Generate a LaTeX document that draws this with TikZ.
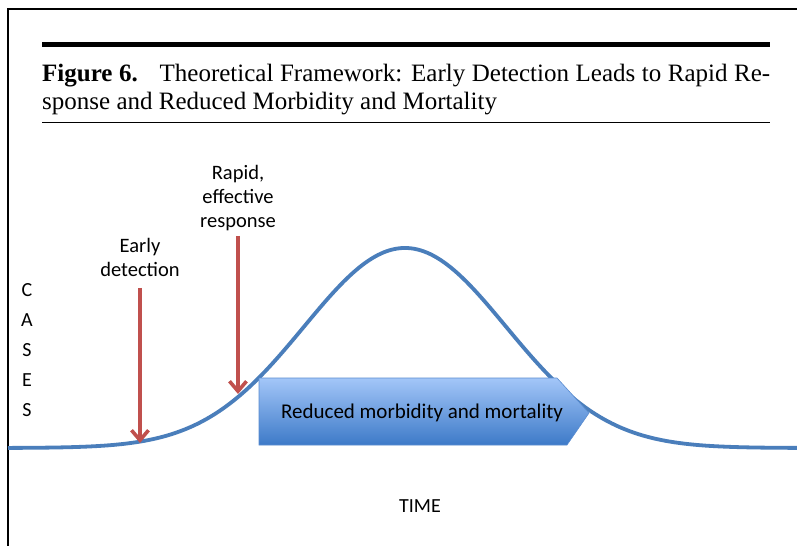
\documentclass[tikz,border=0pt]{standalone}
\usepackage{fontspec}
\setmainfont{Liberation Serif}
\newfontfamily\calib{Carlito}
\usetikzlibrary{arrows.meta}
\definecolor{curveblue}{HTML}{4A7EBB}
\definecolor{arrowred}{HTML}{C0504D}
\definecolor{boxtop}{HTML}{A3C6F8}
\definecolor{boxbot}{HTML}{3D7AC8}
\definecolor{boxedge}{HTML}{5A8CD0}
\tikzset{
  redarrow/.style={draw=arrowred, line width=3.6bp, -{Straight Barb[length=10bp,width=17bp,line width=3.6bp]}},
  lbl/.style={font=\calib\fontsize{20.5bp}{24bp}\selectfont, align=center, inner sep=0pt},
  ttl/.style={font=\fontsize{25bp}{28bp}\selectfont, anchor=base west, inner sep=0pt},
}
\begin{document}
\begin{tikzpicture}[x=1bp,y=-1bp]
\useasboundingbox (0,0) rectangle (797,546);
\fill[white] (0,0) rectangle (797,546);
% frame
\draw[line width=2bp] (8,546) -- (8,9) -- (797,9);
% title rules
\draw[line width=5bp] (42,45) -- (770,45);
\draw[line width=0.8bp] (42,122) -- (770,122);
\node[ttl] (t1) at (42,82) {\makebox[728bp][s]{\textbf{Figure 6.}\hspace{0.5em} Theoretical Framework: Early Detection Leads to Rapid Re-}};
\node[ttl] (t2) at (42,110) {sponse and Reduced Morbidity and Mortality};
% curve
\draw[curveblue, line width=3.8bp] plot[domain=8:797, samples=240, smooth] (\x, {448-200*exp(-0.5*((\x-405)/101)^2)});
% box
\shade[top color=boxtop, bottom color=boxbot, draw=boxedge, line width=0.6bp]
  (259,378) -- (557,378) -- (589,413) -- (567,445) -- (259,445) -- cycle;
\node[lbl, font=\calib\fontsize{21bp}{24bp}\selectfont] (box) at (422,413) {Reduced morbidity and mortality};
% labels
\node[lbl] (ed) at (140,257) {Early\\detection};
\node[lbl] (rr) at (238,198) {Rapid,\\effective\\response};
\coordinate (edtip) at (140,443);
\coordinate (rrtip) at (238,394);
\draw[redarrow] (140,288) -- (edtip);
\draw[redarrow] (238,236) -- (rrtip);
% axis labels
\node[lbl, font=\calib\fontsize{20bp}{30bp}\selectfont] (cases) at (27,350) {C\\A\\S\\E\\S};
\node[lbl, font=\calib\fontsize{20bp}{24bp}\selectfont] (time) at (420,506) {TIME};
\end{tikzpicture}
\end{document}
